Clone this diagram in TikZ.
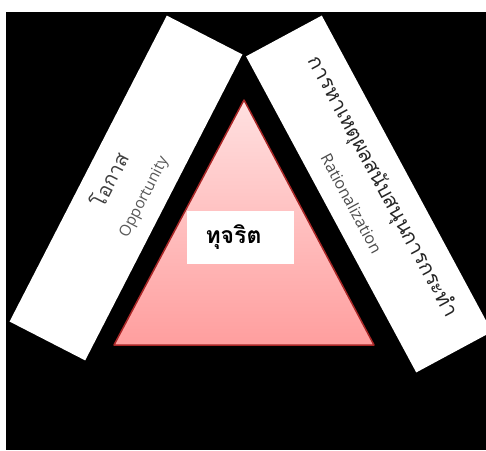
\documentclass[tikz,border=0pt]{standalone}
\usepackage{fontspec}
\newfontfamily\thaifont[Script=Thai]{Loma}
\newfontfamily\latinfont{Open Sans}
\usetikzlibrary{positioning}

\begin{document}
\begin{tikzpicture}[x=1pt, y=-1pt]

% --- styles ---
\tikzset{
  sidebar/.style={fill=white, draw=none, align=center, inner sep=0pt,
                  font=\fontsize{15}{35}\selectfont},
}

% --- page and background ---
\useasboundingbox (0,0) rectangle (486,450);
\clip (0,0) rectangle (486,450);
\fill[black] (6,12) rectangle (486,450);

% --- corner points of the triangle ---
\coordinate (apex) at (244,100);
\coordinate (baseL) at (114,345);
\coordinate (baseR) at (374,345);

% --- the two side bars ---
\node[sidebar, rotate=62.8, minimum width=344, minimum height=85] (opp) at (126,188)
  {{\thaifont\fontsize{20}{24}\selectfont\color{black!75}โอกาส}\\
   {\latinfont\fontsize{15.5}{18}\selectfont\color{black!65}Opportunity}};
\node[sidebar, rotate=-61.7, minimum width=359, minimum height=86] (rat) at (369,194)
  {{\thaifont\fontsize{20.5}{24}\selectfont\color{black!85}การหาเหตุผลสนับสนุนการกระทำ}\\
   {\latinfont\fontsize{16}{18}\selectfont\color{black!70}Rationalization}};

% --- central triangle ---
\shade[top color=red!12, bottom color=red!38] (apex) -- (baseR) -- (baseL) -- cycle;
\draw[line width=1.5pt, color=red!60!black!85, line join=round] (apex) -- (baseR) -- (baseL) -- cycle;

% --- label box ---
\node[fill=white, minimum width=107, minimum height=53, inner sep=0pt,
      font=\thaifont\bfseries\fontsize{23}{26}\selectfont] (fraud) at (240.5,237.5)
  {\hspace*{-14pt}\raisebox{-5pt}{ทุจริต}};

\end{tikzpicture}
\end{document}
